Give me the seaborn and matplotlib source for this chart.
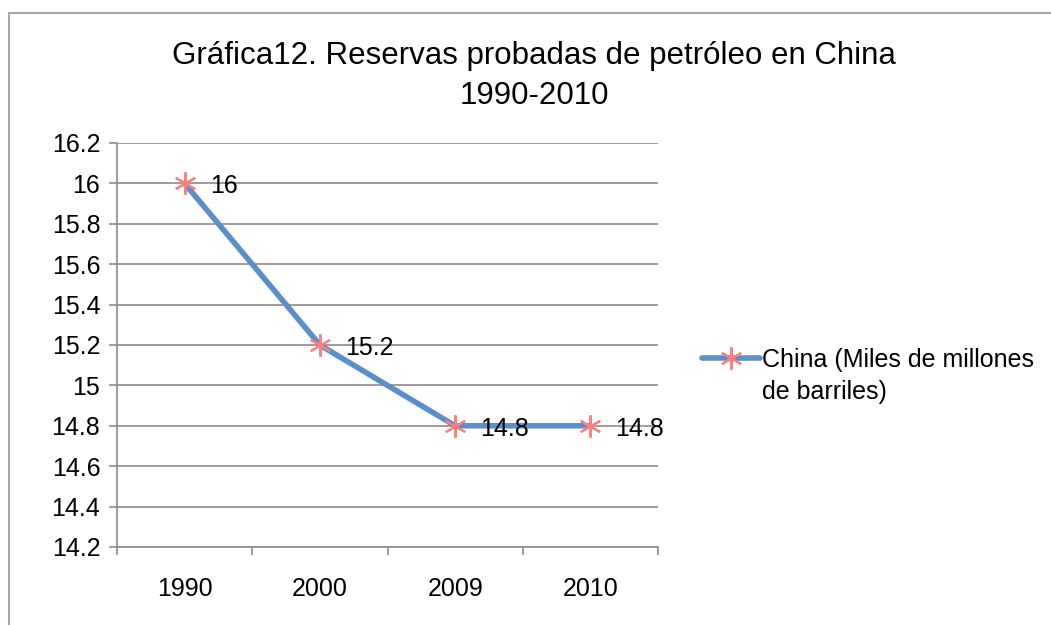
import matplotlib
matplotlib.use("Agg")
import matplotlib.pyplot as plt
import seaborn as sns
import pandas as pd
from matplotlib.patches import Rectangle

# Datos de la gráfica
anios = ["1990", "2000", "2009", "2010"]
reservas = [16, 15.2, 14.8, 14.8]
etiquetas = ["16", "15.2", "14.8", "14.8"]
serie = ["China (Miles de millones", "de barriles)"]
titulo = "Gráfica12. Reservas probadas de petróleo en China\n1990-2010"
y_ticks = [14.2, 14.4, 14.6, 14.8, 15, 15.2, 15.4, 15.6, 15.8, 16, 16.2]

df = pd.DataFrame({"anio": anios, "reservas": reservas})

sns.set_style("white")
plt.rcParams["font.family"] = ["Liberation Sans", "DejaVu Sans"]
plt.rcParams["text.color"] = "black"
plt.rcParams["xtick.color"] = "black"
plt.rcParams["ytick.color"] = "black"

fig = plt.figure(figsize=(10.51, 6.25), dpi=100)
ax = fig.add_axes([117 / 1051, 1 - 547 / 625, 541 / 1051, 404 / 625])

# marco gris alrededor del gráfico
fig.patches.append(Rectangle((9 / 1051, -0.1), 1.2, 1 - 13 / 625 + 0.1,
                             transform=fig.transFigure, fill=False,
                             edgecolor="#a6a6a6", linewidth=1.5))

sns.lineplot(data=df, x="anio", y="reservas", ax=ax, color="#5b8fcb",
             linewidth=4, marker=(6, 2, 0), markersize=16,
             markeredgecolor="#ff7f7f", markerfacecolor="#ff7f7f",
             markeredgewidth=1.5, label=serie[0], sort=False)

for i, (v, t) in enumerate(zip(reservas, etiquetas)):
    ax.annotate(t, (i, v), xytext=(18, -2), textcoords="offset points",
                va="center", ha="left", fontsize=18, color="black")

ax.set_xlim(-0.5, 3.5)
ax.set_ylim(14.2, 16.2)
ax.set_yticks(y_ticks)
ax.set_yticklabels([f"{v:g}" for v in y_ticks])
ax.set_xticks(range(len(anios)))
ax.set_xticklabels(anios)
ax.set_xticks([-0.5, 0.5, 1.5, 2.5, 3.5], minor=True)
ax.set_xlabel("")
ax.set_ylabel("")

ax.grid(axis="y", color="#8c8c8c", linewidth=1.2)
ax.set_axisbelow(True)
for s in ["top", "right"]:
    ax.spines[s].set_visible(False)
for s in ["left", "bottom"]:
    ax.spines[s].set_color("#8c8c8c")
    ax.spines[s].set_linewidth(1.2)

ax.tick_params(axis="y", which="major", left=True, length=6, width=1.2,
               color="#8c8c8c", labelcolor="black", labelsize=18, pad=6)
ax.tick_params(axis="x", which="major", bottom=False, labelsize=18, pad=18,
               labelcolor="black")
ax.tick_params(axis="x", which="minor", bottom=True, length=6, width=1.2,
               color="#8c8c8c")

fig.text(534 / 1051, 1 - 76 / 625, titulo, ha="center", va="center",
         fontsize=22.5, linespacing=1.45, color="black")

leg = ax.legend(loc="center left", bbox_to_anchor=(692 / 1051, 1 - 360 / 625),
                bbox_transform=fig.transFigure, frameon=False, fontsize=18,
                handlelength=2.3, handletextpad=0.1, borderaxespad=0)

# segunda línea de la leyenda alineada con la primera
fig.canvas.draw()
bb = leg.get_texts()[0].get_window_extent().transformed(fig.transFigure.inverted())
fig.text(bb.x0, bb.y0 - 32 / 625, serie[1], ha="left", va="bottom",
         fontsize=18, color="black")

fig.savefig("out.png", dpi=100)
